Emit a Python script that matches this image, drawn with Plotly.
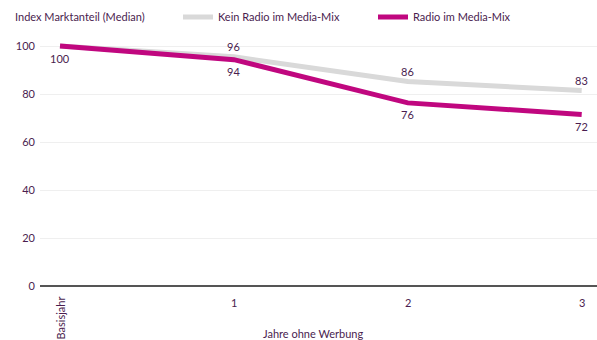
import plotly.graph_objects as go

categories = ["Basisjahr", "1", "2", "3"]
x_pos = [0, 1, 2, 3]
kein_radio = [100, 95.5, 85.2, 81.5]
radio = [100, 94.3, 76.3, 71.5]
kein_labels = ["", "96", "86", "83"]
radio_labels = ["100", "94", "76", "72"]
y_ticks = [0, 20, 40, 60, 80, 100]

TXT = "#4a1d4f"
FONT = "Lato, 'Open Sans', sans-serif"
FS = 11

fig = go.Figure()
fig.add_trace(go.Scatter(
    x=x_pos, y=kein_radio, mode="lines", name="Kein Radio im Media-Mix",
    line=dict(color="#d9d9d9", width=5), legend="legend",
))
fig.add_trace(go.Scatter(
    x=x_pos, y=radio, mode="lines", name="Radio im Media-Mix",
    line=dict(color="#c0077f", width=5), legend="legend2",
))

annotations = [
    dict(text="Index Marktanteil (Median)", xref="paper", yref="paper",
         x=-27/557, y=1 + (40 - 17) / 246, xanchor="left", yanchor="middle",
         showarrow=False, font=dict(color=TXT, size=FS, family=FONT)),
    dict(text="Jahre ohne Werbung", xref="paper", yref="paper",
         x=(313 - 40) / 557, y=-(333 - 286) / 246, xanchor="center", yanchor="middle",
         showarrow=False, font=dict(color=TXT, size=FS, family=FONT)),
]
for xv, yv, lab in zip(x_pos, kein_radio, kein_labels):
    if lab:
        annotations.append(dict(text=lab, x=xv, y=yv, xref="x", yref="y",
                                yshift=10, yanchor="middle", xanchor="center",
                                showarrow=False, font=dict(color=TXT, size=FS, family=FONT)))
for xv, yv, lab in zip(x_pos, radio, radio_labels):
    if lab:
        annotations.append(dict(text=lab, x=xv, y=yv, xref="x", yref="y",
                                yshift=-12, yanchor="middle", xanchor="center",
                                showarrow=False, font=dict(color=TXT, size=FS, family=FONT)))
for xv, cat in zip(x_pos, categories):
    if cat == "Basisjahr":
        annotations.append(dict(text=cat, x=xv, xref="x", yref="paper",
                                y=-(295 - 286) / 246, yanchor="top", xanchor="center",
                                textangle=-90, showarrow=False,
                                font=dict(color=TXT, size=FS, family=FONT)))
    else:
        annotations.append(dict(text=cat, x=xv, xref="x", yref="paper",
                                y=-(302 - 286) / 246, yanchor="middle", xanchor="center",
                                showarrow=False,
                                font=dict(color=TXT, size=FS, family=FONT)))

legend_common = dict(orientation="h", xref="container", yref="container",
                     y=1 - 17 / 340, xanchor="left", yanchor="middle",
                     font=dict(color=TXT, size=FS, family=FONT),
                     bgcolor="rgba(0,0,0,0)")

fig.update_layout(
    width=597, height=340,
    margin=dict(l=40, r=0, t=40, b=54, autoexpand=False),
    paper_bgcolor="white", plot_bgcolor="white",
    font=dict(family=FONT, color=TXT, size=FS),
    showlegend=True,
    legend=dict(x=178 / 597, **legend_common),
    legend2=dict(x=373 / 597, **legend_common),
    xaxis=dict(range=[-0.115, 3.088], tickvals=x_pos, ticktext=["", "", "", ""],
               showgrid=False, zeroline=False, showline=False, ticks=""),
    yaxis=dict(range=[0, 102.5], tickvals=y_ticks, showgrid=True, gridcolor="#efefef",
               gridwidth=1, zeroline=True, zerolinecolor="#555555", zerolinewidth=1.5,
               ticks="", tickfont=dict(color=TXT, size=FS, family=FONT), ticklabelstandoff=4),
    annotations=annotations,
)

fig.write_html("out.html", config={"displayModeBar": False},
               post_script="document.body.style.margin='0';")
